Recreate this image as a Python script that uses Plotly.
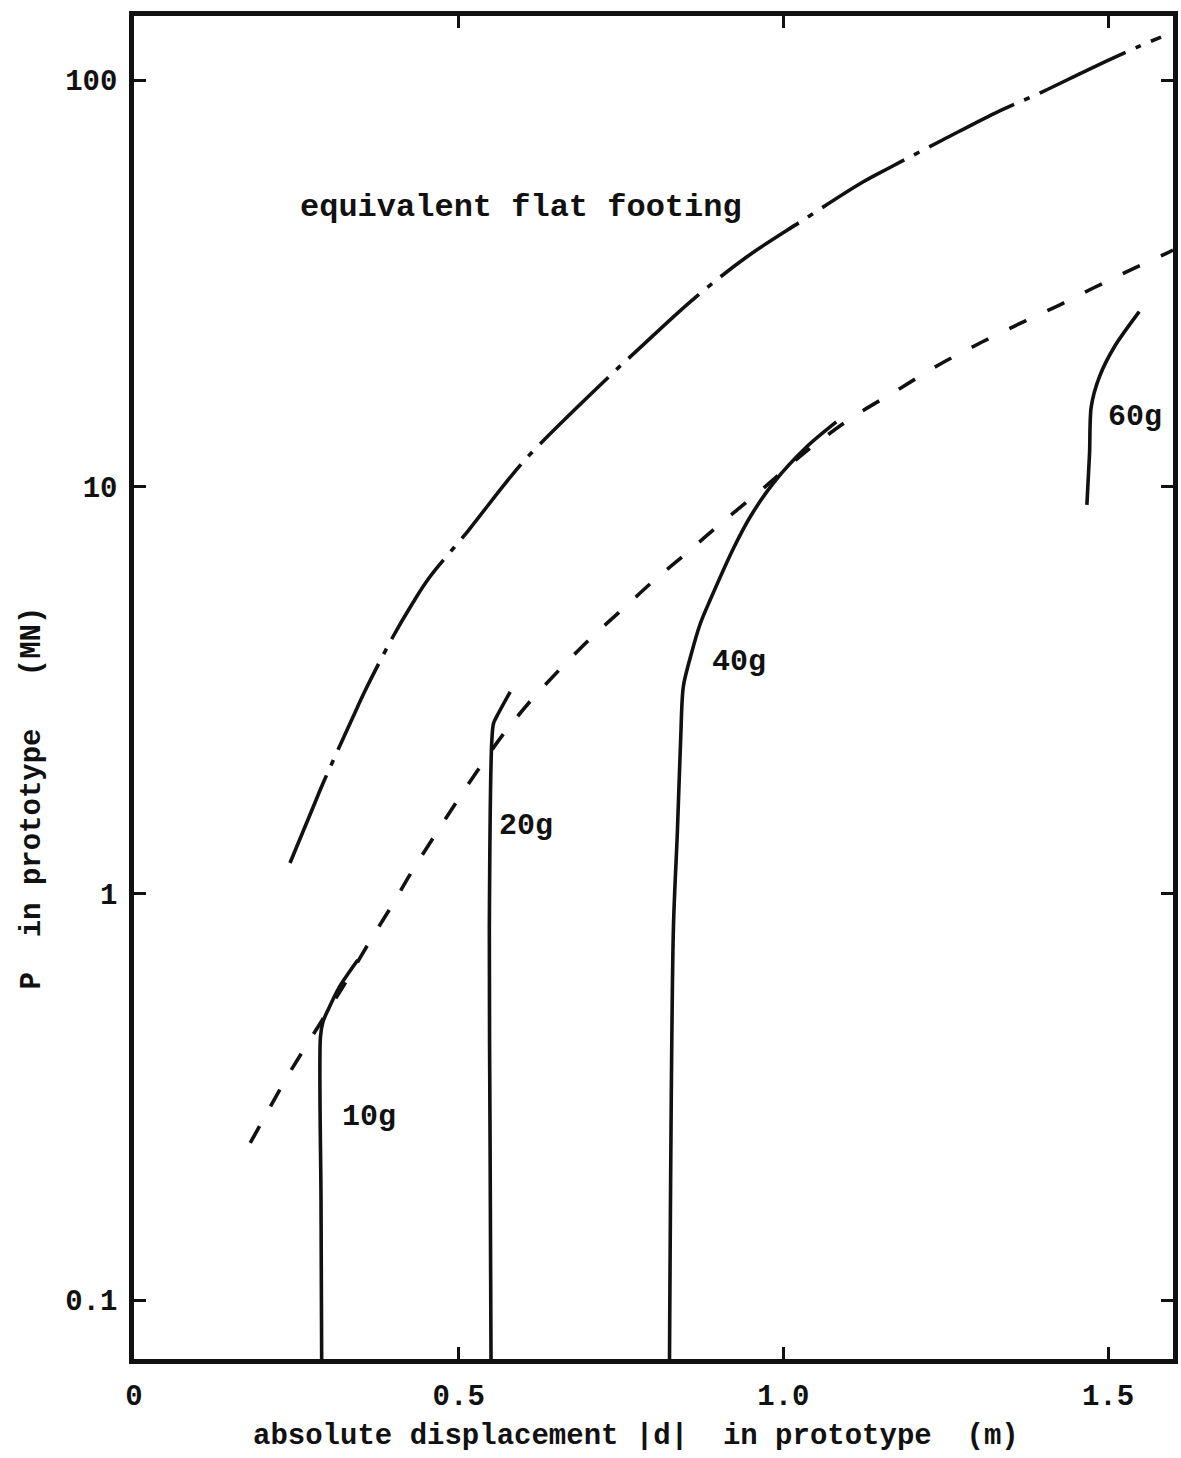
import math
import plotly.graph_objects as go

# Equivalent flat footing (dash-dot): displacement |d| in m, load P in MN
footing_d = [0.2402, 0.2753, 0.2906, 0.3365, 0.3564, 0.3977, 0.4283, 0.4543, 0.5155,
             0.5721, 0.6103, 0.7357, 0.7740, 0.8597, 0.9434, 1.0306, 1.1224, 1.1656,
             1.2451, 1.3262, 1.3981, 1.4715, 1.5449, 1.5816]
footing_p = [1.188, 1.622, 1.858, 2.700, 3.163, 4.246, 5.148, 5.963, 7.826,
             10.21, 12.03, 18.93, 21.57, 28.77, 36.71, 45.28, 56.13, 61.12,
             71.2, 82.96, 93.4, 106.4, 120.5, 127.5]

# Envelope through the pile tests (dashed)
envelope_d = [0.1790, 0.2096, 0.2402, 0.2861, 0.3243, 0.3625, 0.3977, 0.4283, 0.4696,
              0.5181, 0.5690, 0.6119, 0.6577, 0.7036, 0.7526, 0.8015, 0.8566, 0.9025,
              0.9713, 1.0356, 1.1070, 1.1682, 1.2390, 1.3059, 1.3721, 1.4282, 1.4741,
              1.5250, 1.5908, 1.6000]
envelope_p = [0.2434, 0.2984, 0.3638, 0.4775, 0.5986, 0.7596, 0.9365, 1.135, 1.440,
              1.890, 2.466, 2.989, 3.583, 4.246, 5.004, 5.896, 6.989, 8.096,
              9.98, 12.24, 14.84, 17.00, 19.92, 22.69, 25.55, 28.13, 30.63,
              33.54, 37.55, 38.19]

# Pile load tests at different accelerations (solid)
g10_d = [0.2891, 0.2880, 0.2871, 0.2911, 0.2988, 0.3166, 0.3446]
g10_p = [0.065, 0.176, 0.443, 0.484, 0.517, 0.590, 0.686]

g20_d = [0.5499, 0.5484, 0.5472, 0.5511, 0.5537, 0.5614, 0.5793]
g20_p = [0.065, 0.234, 0.813, 2.384, 2.619, 2.777, 3.132]

g40_d = [0.8245, 0.8306, 0.8367, 0.8418, 0.8459, 0.8570, 0.8724, 0.8872, 0.9234,
         0.9488, 0.9846, 1.0356, 1.0815]
g40_p = [0.065, 0.813, 1.408, 2.384, 3.223, 3.819, 4.623, 5.264, 7.069,
         8.424, 10.21, 12.52, 14.43]

g60_d = [1.4674, 1.4715, 1.4741, 1.4868, 1.5098, 1.5480]
g60_p = [9.02, 12.10, 15.73, 18.65, 22.09, 26.94]

# Curve labels
label_text = ["equivalent flat footing", "10g", "20g", "40g", "60g"]
label_d = [0.2524, 0.3166, 0.5583, 0.8872, 1.497]
label_p = [48.7, 0.282, 1.465, 3.71, 14.84]
label_size = [32, 30, 30, 30, 30]

# Axes
x_tickvals = [0, 0.5, 1.0, 1.5]
x_ticktext = ["0", "0.5", "1.0", "1.5"]
y_tickvals = [0.1, 1, 10, 100]
y_ticktext = ["0.1", "1", "10", "100"]
x_title = "absolute displacement |d|  in prototype  (m)"
y_title = "P  in prototype   (MN)"

INK = "#111111"
FONT = "Liberation Mono"
CURVE_W = 3.6


def typed(size):
    return dict(family=FONT, size=size, color=INK, weight="bold")


fig = go.Figure()

fig.add_trace(go.Scatter(x=footing_d, y=footing_p, mode="lines",
                         line=dict(color=INK, width=CURVE_W, shape="spline", smoothing=1.0,
                                   dash="95px,11px,6px,11px")))
fig.add_trace(go.Scatter(x=envelope_d, y=envelope_p, mode="lines",
                         line=dict(color=INK, width=CURVE_W, shape="spline", smoothing=0.8,
                                   dash="19px,23px")))
for xs, ys in [(g10_d, g10_p), (g20_d, g20_p), (g40_d, g40_p), (g60_d, g60_p)]:
    fig.add_trace(go.Scatter(x=xs, y=ys, mode="lines",
                             line=dict(color=INK, width=CURVE_W, shape="spline", smoothing=0.8)))

for txt, xd, yp, sz in zip(label_text, label_d, label_p, label_size):
    fig.add_annotation(x=xd, y=math.log10(yp), xref="x", yref="y", text=txt,
                       showarrow=False, xanchor="left", yanchor="middle", font=typed(sz))

# Axis titles
fig.add_annotation(x=0.483, y=-0.058, xref="paper", yref="paper", text=x_title,
                   showarrow=False, xanchor="center", yanchor="middle", font=typed(29))
fig.add_annotation(x=-0.0977, y=0.4177, xref="paper", yref="paper", text=y_title,
                   showarrow=False, xanchor="center", yanchor="middle", textangle=-90,
                   font=typed(29))

axis_common = dict(showline=True, linewidth=4.5, linecolor=INK, mirror="ticks",
                   ticks="inside", ticklen=12, tickwidth=3, tickcolor=INK,
                   showgrid=False, zeroline=False, tickfont=typed(29))

fig.update_layout(
    width=1181, height=1458,
    margin=dict(l=134, r=3.5, t=16, b=99),
    paper_bgcolor="white", plot_bgcolor="white",
    showlegend=False,
    xaxis=dict(range=[0, 1.6], tickvals=x_tickvals, ticktext=x_ticktext,
               ticklabelstandoff=6, **axis_common),
    yaxis=dict(type="log", range=[-1.1448, 2.1574], tickvals=y_tickvals,
               ticktext=y_ticktext, ticklabelstandoff=6, **axis_common),
)

fig.write_html("out.html")
